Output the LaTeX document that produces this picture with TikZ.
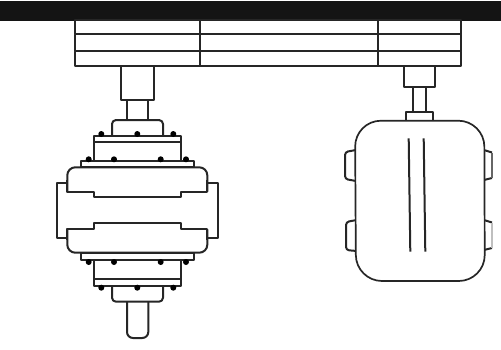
\documentclass[tikz,border=0pt]{standalone}
\usepackage{tikz}

\begin{document}
\begin{tikzpicture}[x=1pt,y=-1pt]
\tikzstyle{part} = [line width=2pt, line join=round, fill=white, draw=black!85]
\tikzstyle{thin part} = [line width=1.7pt, line join=round, fill=white, draw=black!85]
\useasboundingbox (0,0) rectangle (501,349);

%Top beam
\fill[black!92] (0,1) rectangle (501,20.5);

%Table
\draw[thin part] (74.7,20) rectangle (461,65.7);
\draw[part] (74.7,34.3) -- (461,34.3);
\draw[part] (74.7,51.3) -- (461,51.3);
\draw[part] (200,20) -- (200,65.7);
\draw[part] (377.7,20) -- (377.7,65.7);

%Left column upper part
\draw[part] (121,65.7) rectangle (153.7,99.5);
\draw[part] (127,99.5) rectangle (148.3,120);
\draw[part, rounded corners=4pt] (112,136) -- (112,120) -- (163,120) -- (163,136);
\draw[part] (94,136) rectangle (180.7,161);
\draw[part] (94,141.7) -- (180.7,141.7);
\draw[thin part] (81,161) rectangle (194,167.3);

%Side bracket
\draw[part] (67.3,182.7) -- (56.7,182.7) -- (56.7,238.3) -- (67.3,238.3);
\draw[part] (207.3,182.7) -- (217.7,182.7) -- (217.7,238.3) -- (207.3,238.3);

%Upper body
\draw[part, rounded corners=8pt] (67.3,191.7) -- (67.3,167.3) -- (207.3,167.3) -- (207.3,191.7);
\draw[part, fill=none] (67.3,180) -- (67.3,191.7) -- (94,191.7) -- (94,197.3) -- (180.7,197.3) -- (180.7,191.7) -- (207.3,191.7) -- (207.3,180);

%Lower body
\draw[part, rounded corners=8pt] (67.3,229.3) -- (67.3,252.7) -- (207.3,252.7) -- (207.3,229.3);
\draw[part, fill=none] (67.3,240) -- (67.3,229.3) -- (94,229.3) -- (94,223.3) -- (180.7,223.3) -- (180.7,229.3) -- (207.3,229.3) -- (207.3,240);

%Left column lower part
\draw[part, rounded corners=6pt] (127,301.7) -- (127,338) -- (148.3,338) -- (148.3,301.7);
\draw[part, rounded corners=4pt] (112,286) -- (112,301.7) -- (163,301.7) -- (163,286);
\draw[thin part] (81,252.7) rectangle (194,260);
\draw[part] (94,260) rectangle (180.7,286);
\draw[part] (94,279.3) -- (180.7,279.3);

%Bolts
\foreach \x in {101.3,137.3,173.3}
\fill (\x,134) circle (3);
\foreach \x in {88.7,114,160.7,186}
\fill (\x,159.3) circle (3);
\foreach \x in {88.7,114,160.7,186}
\fill (\x,262) circle (3);
\foreach \x in {101.3,137.3,173.3}
\fill (\x,287.7) circle (3);

%Motor
\draw[part] (404,65.7) rectangle (435,86.7);
\draw[part] (413.3,86.7) rectangle (426,111.7);
\draw[part] (406,111.7) rectangle (433.3,121);

%Ears
\draw[part, rounded corners=3pt] (356,150) -- (345,152) -- (345,179) -- (356,181);
\draw[part, rounded corners=3pt] (356.5,220) -- (346,222) -- (346,250) -- (356.5,251);
\draw[part] (484,150) -- (492,152.5);
\draw[part] (484,180) -- (492,178);
\draw[black!60, line width=1.5pt] (492,152.5) -- (492,178);
\draw[part] (484,220) -- (492,222.5);
\draw[part] (484,250) -- (492,248);
\draw[black!25, line width=1.5pt] (492,222.5) -- (492,248);

\draw[thin part, rounded corners=26pt] (355,120.7) -- (484.3,120.7) -- (484.8,281) -- (356,281) -- cycle;
\draw[part] (408.7,138.3) -- (410.3,251.7);
\draw[part] (423.7,138.3) -- (425.3,251.7);

\end{tikzpicture}
\end{document}
